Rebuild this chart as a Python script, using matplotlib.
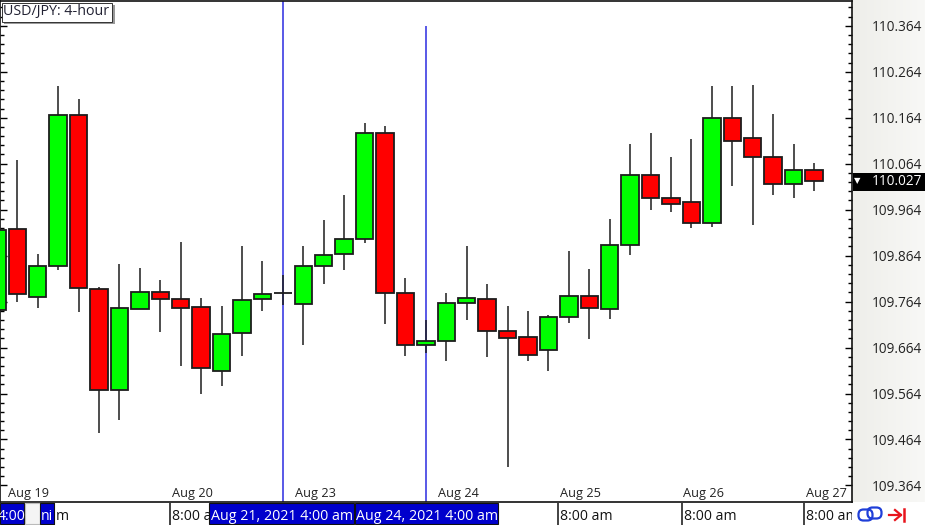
import matplotlib
matplotlib.use("Agg")
import matplotlib.pyplot as plt
import numpy as np
from matplotlib.patches import FancyBboxPatch, Rectangle

# USD/JPY 4-hour candles
opens = [109.745, 109.922, 109.774, 109.841, 110.169, 109.791, 109.572, 109.748,
         109.785, 109.769, 109.752, 109.613, 109.695, 109.769, 109.782, 109.759,
         109.841, 109.867, 109.900, 110.130, 109.782, 109.669, 109.678, 109.761,
         109.769, 109.700, 109.687, 109.658, 109.730, 109.776, 109.748, 109.887,
         110.039, 109.989, 109.980, 109.935, 110.163, 110.119, 110.078, 110.019,
         110.050]
closes = [109.919, 109.780, 109.841, 110.169, 109.793, 109.572, 109.750, 109.785,
          109.769, 109.750, 109.619, 109.693, 109.767, 109.780, 109.782, 109.841,
          109.865, 109.900, 110.130, 109.782, 109.669, 109.678, 109.761, 109.772,
          109.700, 109.685, 109.648, 109.730, 109.776, 109.750, 109.887, 110.039,
          109.989, 109.976, 109.935, 110.163, 110.113, 110.078, 110.019, 110.050,
          110.027]
highs = [109.919, 110.072, 109.867, 110.232, 110.204, 109.796, 109.845, 109.837,
         109.811, 109.893, 109.772, 109.754, 109.885, 109.852, 109.822, 109.885,
         109.941, 109.995, 110.152, 110.145, 109.815, 109.724, 109.782, 109.885,
         109.802, 109.754, 109.743, 109.735, 109.874, 109.835, 109.943, 110.106,
         110.130, 110.078, 110.117, 110.232, 110.232, 110.235, 110.172, 110.106,
         110.065]
lows = [109.745, 109.763, 109.750, 109.832, 109.741, 109.478, 109.506, 109.748,
        109.698, 109.624, 109.563, 109.580, 109.645, 109.743, 109.756, 109.669,
        109.802, 109.832, 109.891, 109.715, 109.645, 109.652, 109.635, 109.724,
        109.643, 109.404, 109.635, 109.613, 109.717, 109.682, 109.726, 109.865,
        109.963, 109.959, 109.924, 109.926, 110.015, 109.930, 109.995, 109.989,
        110.004]

y_ticks = [109.364, 109.464, 109.564, 109.664, 109.764, 109.864, 109.964,
           110.064, 110.164, 110.264, 110.364]
marker_candles = [14, 21]
current_price = closes[-1]

date_labels = ["Aug 19", "Aug 20", "Aug 23", "Aug 24", "Aug 25", "Aug 26", "Aug 27"]
date_label_x = [8, 172, 295, 438, 560, 683, 806]
time_sep_x = [54, 170, 558, 682, 804]
time_label_x = [170, 558, 682, 804]

W, H = 925, 525
plt.rcParams["font.family"] = ["Open Sans", "DejaVu Sans"]

fig = plt.figure(figsize=(W / 100, H / 100), dpi=100, facecolor="white")

# price panel background, slight left-right gradient
panel = fig.add_axes([852 / W, 23 / H, 73 / W, 502 / H], zorder=0)
grad = np.linspace(0, 1, 73).reshape(1, -1)
panel.imshow(grad, aspect="auto", cmap=matplotlib.colors.LinearSegmentedColormap.from_list(
    "panel", ["#eeeeea", "#f8f8f6"]))
panel.axis("off")

ax = fig.add_axes([0, 23 / H, 852 / W, 501.5 / H], zorder=1)
ax.set_xlim(0.152, 41.86)
ax.set_ylim(109.328, 110.419)

idx = np.arange(len(opens))
opens_arr = np.array(opens)
closes_arr = np.array(closes)
colors = ["#00ff00" if c > o else "#ff0000" for o, c in zip(opens, closes)]

# blue marker lines sit behind the candles
ax.vlines(marker_candles[0], 109.328, 110.419, color="#2b2be0", lw=1.1, zorder=1)
ax.vlines(marker_candles[1], 109.328, 110.364, color="#2b2be0", lw=1.1, zorder=1)

ax.vlines(idx, lows, highs, color="#1c1c1c", lw=1.1, zorder=2)
ax.bar(idx, closes_arr - opens_arr, bottom=opens_arr, width=0.85, color=colors,
       edgecolor="#1c1c1c", linewidth=1.3, zorder=3)

for side in ["top", "bottom", "left", "right"]:
    ax.spines[side].set_linewidth(1.2)
    ax.spines[side].set_color("#111111")

ax.set_xticks([])
ax.set_yticks(y_ticks)
ax.set_yticklabels([f"{v:.3f}" for v in y_ticks])
ax.set_yticks([y_ticks[0] + 0.02 * k for k in range(53) if k % 5 != 0], minor=True)
ax.tick_params(axis="y", which="major", direction="in", left=True, right=True,
               labelleft=False, labelright=True, length=5.2, width=1.0, pad=14,
               labelsize=9.8, labelcolor="#222222")
ax.tick_params(axis="y", which="minor", direction="in", left=True, right=True,
               length=2.8, width=1.0)

# overlay in pixel coordinates for the chart furniture
ov = fig.add_axes([0, 0, 1, 1], zorder=5)
ov.set_xlim(0, W)
ov.set_ylim(H, 0)
ov.axis("off")
ov.patch.set_alpha(0)

for lab, x in zip(date_labels, date_label_x):
    ov.text(x, 494, lab, fontsize=9.2, va="center", ha="left", color="#222222")

# title box with a drop shadow
ov.add_patch(Rectangle((4, 5), 111, 19, fc="#999999", ec="none"))
ov.add_patch(Rectangle((2, 3), 110, 19, fc="white", ec="#333333", lw=0.7))
ov.text(3, 12, "USD/JPY: 4-hour", fontsize=10.3, va="center", ha="left", color="#222233")

# current price flag
ov.add_patch(Rectangle((853, 173), 72, 18, fc="black", ec="none"))
ov.text(857, 181, "\u25bc", fontsize=6, color="white", ha="center", va="center",
        family="DejaVu Sans")
ov.text(872, 181.5, f"{current_price:.3f}", fontsize=9.8, color="white", va="center", ha="left")

# time strip below the axes
for x in time_sep_x:
    ov.plot([x, x], [503, 525], color="#222222", lw=1.2, solid_capstyle="butt")
for x in time_label_x:
    ov.text(x + 2, 517, "8:00 am", fontsize=10.1, va="center", ha="left", color="#111111")

ov.add_patch(Rectangle((852, 503), 73, 22, fc="white", ec="none", zorder=4))

# crosshair date flags
ov.add_patch(Rectangle((209, 503), 145, 21, fc="#0000cc", ec="#111111", lw=0.8, zorder=5))
ov.add_patch(Rectangle((355, 503), 143, 21, fc="#0000cc", ec="#111111", lw=0.8, zorder=5))
ov.text(211, 516, "Aug 21, 2021 4:00 am", fontsize=10.3, color="white", va="center", ha="left", zorder=6)
ov.text(356, 516, "Aug 24, 2021 4:00 am", fontsize=10.3, color="white", va="center", ha="left", zorder=6)

# scrolled-off labels at the left edge
ov.add_patch(Rectangle((0, 503), 24, 21, fc="#0000cc", ec="#111111", lw=0.8, zorder=5))
ov.text(-2, 516, "4:00", fontsize=10.1, color="white", va="center", ha="left", zorder=6)
ov.add_patch(Rectangle((25, 503), 15, 21, fc="#f4f4f4", ec="#bbbbbb", lw=0.8, zorder=5))
ov.add_patch(Rectangle((40, 503), 14, 21, fc="#0000cc", ec="#111111", lw=0.8, zorder=5))
ov.text(41, 516, "ni", fontsize=10.1, color="white", va="center", ha="left", zorder=6)
ov.text(56, 516, "m", fontsize=10.1, color="#111111", va="center", ha="left", zorder=6)

# link and jump-to-end icons
ov.add_patch(FancyBboxPatch((860, 511), 11, 8, boxstyle="round,pad=1.5,rounding_size=5",
                            fc="none", ec="#1f3fd8", lw=1.6, zorder=6))
ov.add_patch(FancyBboxPatch((869, 509), 11, 8, boxstyle="round,pad=1.5,rounding_size=5",
                            fc="none", ec="#1f3fd8", lw=1.6, zorder=6))
ov.plot([889, 901], [515, 515], color="#e8141c", lw=1.6, zorder=6)
ov.plot([895, 901, 895], [510, 515, 520], color="#e8141c", lw=1.6, zorder=6)
ov.plot([904, 904], [509, 521], color="#e8141c", lw=1.8, zorder=6)

fig.savefig("out.png", dpi=100)
